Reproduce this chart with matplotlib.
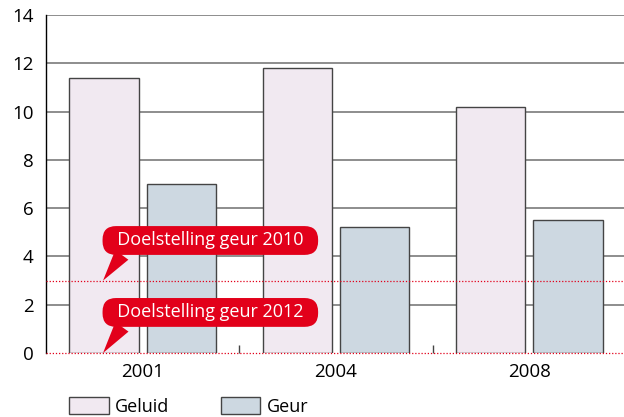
import matplotlib
matplotlib.use("Agg")
import matplotlib.pyplot as plt
import numpy as np
from matplotlib.patches import Patch

years = ["2001", "2004", "2008"]
geluid = [11.4, 11.8, 10.2]
geur = [7.0, 5.2, 5.5]
target_labels = ["Doelstelling geur 2010", "Doelstelling geur 2012"]
target_values = [3, 0]
yticks = [0, 2, 4, 6, 8, 10, 12, 14]

plt.rcParams['font.family'] = ['Open Sans', 'DejaVu Sans']

RED = '#e2001a'
C_GELUID = '#f1e9f1'
C_GEUR = '#cdd8e1'
EDGE = '#444444'

fig = plt.figure(figsize=(6.24, 4.17), dpi=100)
ax = fig.add_axes([46/624, 1-353/417, 580/624, 338/417])

x = np.arange(len(years))
w = 0.36
ax.bar(x - 0.2, geluid, w, color=C_GELUID, edgecolor=EDGE, linewidth=1.0, zorder=3)
ax.bar(x + 0.2, geur, w, color=C_GEUR, edgecolor=EDGE, linewidth=1.0, zorder=3)

ax.set_xlim(-0.5, 2.5)
ax.set_ylim(0, 14)
ax.set_yticks(yticks)
ax.set_yticklabels([str(t) for t in yticks], fontsize=13.5)
ax.set_xticks(x)
ax.set_xticklabels(years, fontsize=13.5)
ax.set_xticks([0.5, 1.5], minor=True)
ax.tick_params(axis='x', which='major', length=0, pad=7)
ax.tick_params(axis='x', which='minor', direction='in', length=6, color=EDGE, width=1)
ax.tick_params(axis='y', length=0, pad=9)

for t in yticks[1:]:
    ax.axhline(t, color='#7a7a7a', lw=1.2, zorder=1)

for s in ['top', 'right', 'bottom']:
    ax.spines[s].set_visible(False)
ax.spines['left'].set_color('black')
ax.spines['left'].set_linewidth(1.0)

for v in target_values:
    ax.axhline(v, color=RED, lw=0.9, ls=(0, (1, 1.5)), zorder=5, clip_on=False)

text_y = [4.66, 1.68]
for lab, v, ty in zip(target_labels, target_values, text_y):
    ax.annotate("  " + lab + "  ", xy=(-0.205, v), xytext=(0.35, ty),
                textcoords='data', ha='center', va='center', color='white', fontsize=13,
                bbox=dict(boxstyle='round,pad=0.3,rounding_size=0.75', fc=RED, ec='none'),
                arrowprops=dict(arrowstyle='wedge,tail_width=0.9,shrink_factor=0.5', fc=RED, ec='none',
                                relpos=(0.1, 0.2), shrinkA=0, shrinkB=0),
                zorder=6, annotation_clip=False)

handles = [Patch(facecolor=C_GELUID, edgecolor=EDGE, lw=1.0, label='Geluid'),
           Patch(facecolor=C_GEUR, edgecolor=EDGE, lw=1.0, label='Geur')]
fig.legend(handles=handles, loc='upper left', bbox_to_anchor=(69/624, 1-397/417), ncol=2,
           frameon=False, fontsize=13, handlelength=2.2, handleheight=1.1,
           handletextpad=0.35, columnspacing=2.85, borderpad=0, borderaxespad=0)

fig.savefig('out.png', dpi=100)
